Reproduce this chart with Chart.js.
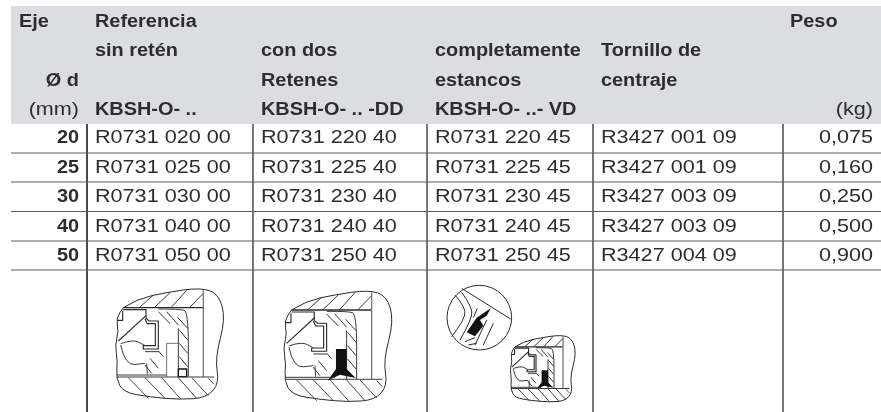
<!DOCTYPE html>
<html>
<head>
<meta charset="utf-8">
<script src="https://cdn.jsdelivr.net/npm/chart.js@4/dist/chart.umd.min.js"></script>
<style>
	html, body { margin: 0; padding: 0; background: #fff; }
	canvas { display: block; }
</style>
</head>
<body>
<canvas id="tableChart" width="881" height="412"></canvas>
<script>
// table content
const diameters = ["20", "25", "30", "40", "50"];
const sinReten = ["R0731 020 00", "R0731 025 00", "R0731 030 00", "R0731 040 00", "R0731 050 00"];
const conDosRetenes = ["R0731 220 40", "R0731 225 40", "R0731 230 40", "R0731 240 40", "R0731 250 40"];
const completamenteEstancos = ["R0731 220 45", "R0731 225 45", "R0731 230 45", "R0731 240 45", "R0731 250 45"];
const tornillos = ["R3427 001 09", "R3427 001 09", "R3427 003 09", "R3427 003 09", "R3427 004 09"];
const pesos = ["0,075", "0,160", "0,250", "0,500", "0,900"];
const headerEje = ["Eje", "", "Ø d", "(mm)"];
const headerSinReten = ["Referencia", "sin retén", "", "KBSH-O- .."];
const headerConDos = ["", "con dos", "Retenes", "KBSH-O- .. -DD"];
const headerEstancos = ["", "completamente", "estancos", "KBSH-O- ..- VD"];
const headerTornillo = ["", "Tornillo de", "centraje", ""];
const headerPeso = ["Peso", "", "", "(kg)"];

// table grid on the x/y scales
const colRules = [87, 253, 427, 593, 783];
const colRuleTop = [6, 36, 36, 6, 6];
const rowRules = [153, 182, 211.5, 241, 270];
const headerBaselines = [27, 56, 86, 115];
const rowBaselines = [143, 173, 202, 231.5, 261];

const ruleSet = (a, b, width, color) => ({
	type: "line",
	data: [a, b],
	borderColor: color,
	borderWidth: width,
	pointRadius: 0,
	fill: false,
});

const datasets = [
	{
		// header band
		type: "line",
		data: [{ x: 11, y: 6 }, { x: 881, y: 6 }],
		borderWidth: 0,
		pointRadius: 0,
		backgroundColor: "#dcdde0",
		fill: { value: 124 },
	},
];
rowRules.forEach((y) => datasets.push(ruleSet({ x: 11, y: y }, { x: 881, y: y }, 1, "#5f5f5f")));
colRules.forEach((x, i) =>
	datasets.push(ruleSet({ x: x, y: colRuleTop[i] }, { x: x, y: 412 }, i == 0 ? 2 : 1.5, "#4a4a4a"))
);

const TEXT = "#2d2d2d";
function putText(ctx, str, x, y, bold, right) {
	// the source is a print scan stretched sideways, so widen the glyphs
	const sx = bold ? 1.105 : 1.2;
	ctx.save();
	ctx.translate(x, y);
	ctx.scale(sx, 1);
	ctx.font = (bold ? "bold " : "") + "18px 'Liberation Sans'";
	ctx.textAlign = right ? "right" : "left";
	ctx.textBaseline = "alphabetic";
	ctx.fillStyle = TEXT;
	ctx.fillText(str, 0, 0);
	ctx.restore();
}

function poly(ctx, pts, close) {
	ctx.beginPath();
	pts.forEach((p, i) => (i ? ctx.lineTo(p[0], p[1]) : ctx.moveTo(p[0], p[1])));
	if (close) ctx.closePath();
	ctx.stroke();
}
function smooth(ctx, pts) {
	ctx.beginPath();
	ctx.moveTo(pts[0][0], pts[0][1]);
	for (let i = 1; i < pts.length - 1; i++) {
		const mx = (pts[i][0] + pts[i + 1][0]) / 2;
		const my = (pts[i][1] + pts[i + 1][1]) / 2;
		ctx.quadraticCurveTo(pts[i][0], pts[i][1], mx, my);
	}
	const last = pts[pts.length - 1];
	ctx.lineTo(last[0], last[1]);
	ctx.stroke();
}

// bearing section, traced in 3x zoom units
function bearing(ctx, ox, oy, k, seal) {
	ctx.save();
	ctx.translate(ox, oy);
	ctx.scale(k / 3, k / 3);
	ctx.strokeStyle = "#2a2a2a";
	ctx.lineJoin = "round";
	ctx.lineWidth = 3 / k;
	smooth(ctx, [[100, 38], [140, 12], [230, -8], [330, -22], [385, -5], [407, 70], [375, 190], [388, 265], [350, 308], [270, 314], [180, 306], [100, 292], [78, 250], [83, 200], [75, 150], [86, 110], [78, 70], [100, 38]]);
	// housing
	ctx.lineWidth = 4 / k;
	poly(ctx, [[100, 38], [340, 38]]);
	ctx.lineWidth = 2.8 / k;
	[[150, 36, 190, 0], [195, 36, 240, -7], [245, 36, 290, -14], [300, 36, 340, -5]].forEach((h) => poly(ctx, [[h[0], h[1]], [h[2], h[3]]]));
	// outer race
	ctx.lineWidth = 3.4 / k;
	poly(ctx, [[100, 44], [168, 44], [168, 70], [178, 78], [205, 78], [205, 162], [160, 162], [160, 152], [196, 152], [196, 86], [172, 86], [165, 72]]);
	poly(ctx, [[82, 76], [98, 76], [98, 48]]);
	poly(ctx, [[85, 138], [168, 62]]);
	// ball
	ctx.lineWidth = 2.8 / k;
	smooth(ctx, [[92, 146], [130, 132], [165, 152]]);
	smooth(ctx, [[92, 150], [105, 212], [165, 205]]);
	poly(ctx, [[165, 170], [208, 170]]);
	poly(ctx, [[207, 170], [220, 185]]);
	poly(ctx, [[170, 205], [172, 238]]);
	// seal carrier
	smooth(ctx, [[205, 42], [270, 42], [295, 50], [295, 245]]);
	poly(ctx, [[265, 100], [265, 245]]);
	[[205, 50, 240, 86], [230, 50, 265, 90], [262, 66, 293, 100], [268, 105, 293, 135], [268, 145, 293, 175], [268, 185, 293, 215], [180, 190, 205, 220], [165, 210, 185, 235]].forEach((h) => poly(ctx, [[h[0], h[1]], [h[2], h[3]]]));
	if (seal) {
		ctx.fillStyle = "#111";
		ctx.beginPath();
		[[233, 155], [265, 155], [265, 215], [292, 242], [245, 232], [208, 250], [233, 215]].forEach((p, i) => (i ? ctx.lineTo(p[0], p[1]) : ctx.moveTo(p[0], p[1])));
		ctx.closePath();
		ctx.fill();
	} else {
		ctx.strokeStyle = "#666";
		poly(ctx, [[230, 245], [230, 145], [265, 145]]);
		ctx.strokeStyle = "#111";
		ctx.lineWidth = 4 / k;
		poly(ctx, [[265, 222], [290, 222], [290, 245], [265, 245]], true);
	}
	// shaft
	ctx.strokeStyle = "#777";
	ctx.lineWidth = 4 / k;
	poly(ctx, [[340, -15], [340, 245]]);
	ctx.strokeStyle = "#3a3a3a";
	ctx.lineWidth = 3 / k;
	poly(ctx, [[80, 240], [230, 240]]);
	poly(ctx, [[80, 246], [372, 246]]);
	ctx.lineWidth = 2.8 / k;
	[[115, 248, 175, 310], [165, 248, 225, 310], [215, 248, 272, 312], [265, 248, 320, 310], [305, 248, 355, 302], [355, 250, 372, 268]].forEach((h) => poly(ctx, [[h[0], h[1]], [h[2], h[3]]]));
	ctx.restore();
}

// round detail above the small section
function detail(ctx, ox, oy) {
	ctx.save();
	ctx.translate(ox, oy);
	ctx.scale(1 / 3, 1 / 3);
	ctx.strokeStyle = "#2a2a2a";
	ctx.lineWidth = 3;
	ctx.beginPath();
	ctx.arc(178, 68, 97, 0, Math.PI * 2);
	ctx.stroke();
	poly(ctx, [[125, -20], [272, 72]]);
	smooth(ctx, [[105, 0], [140, 40], [128, 80], [95, 125]]);
	smooth(ctx, [[125, -8], [160, 40], [150, 80], [120, 135]]);
	poly(ctx, [[172, 40], [160, 68]]);
	[[200, 75, 165, 150], [220, 85, 190, 150], [135, 140, 165, 128], [145, 150, 170, 145]].forEach((h) => poly(ctx, [[h[0], h[1]], [h[2], h[3]]]));
	ctx.fillStyle = "#111";
	ctx.beginPath();
	[[212, 40], [170, 68], [140, 112], [165, 124], [190, 92], [180, 75], [200, 62]].forEach((p, i) => (i ? ctx.lineTo(p[0], p[1]) : ctx.moveTo(p[0], p[1])));
	ctx.closePath();
	ctx.fill();
	ctx.restore();
}

const tablePlugin = {
	id: "tablePlugin",
	afterDatasetsDraw(chart) {
		const { ctx, scales: { x, y } } = chart;
		const px = (v) => x.getPixelForValue(v);
		const py = (v) => y.getPixelForValue(v);
		headerBaselines.forEach((b, i) => {
			if (i < 3) putText(ctx, headerEje[i], i == 0 ? px(19) : px(79), py(b), true, i != 0);
			else putText(ctx, headerEje[i], px(79), py(b), false, true);
			putText(ctx, headerSinReten[i], px(95), py(b), true);
			putText(ctx, headerConDos[i], px(261), py(b), true);
			putText(ctx, headerEstancos[i], px(435), py(b), true);
			putText(ctx, headerTornillo[i], px(601), py(b), true);
			if (i < 3) putText(ctx, headerPeso[i], px(790), py(b), true);
			else putText(ctx, headerPeso[i], px(873), py(b), false, true);
		});
		rowBaselines.forEach((b, i) => {
			putText(ctx, diameters[i], px(79), py(b), true, true);
			putText(ctx, sinReten[i], px(95), py(b));
			putText(ctx, conDosRetenes[i], px(261), py(b));
			putText(ctx, completamenteEstancos[i], px(435), py(b));
			putText(ctx, tornillos[i], px(601), py(b));
			putText(ctx, pesos[i], px(873), py(b), false, true);
		});
		bearing(ctx, px(90), py(295), 1, false);
		bearing(ctx, px(258.3), py(297.3), 1, true);
		bearing(ctx, px(495), py(339.3), 0.6, true);
		detail(ctx, px(420), py(295));
	},
};

new Chart(document.getElementById("tableChart"), {
	type: "scatter",
	data: { datasets: datasets },
	plugins: [tablePlugin],
	options: {
		responsive: false,
		animation: false,
		layout: { padding: 0 },
		plugins: { legend: { display: false }, tooltip: { enabled: false } },
		scales: {
			x: { type: "linear", min: 0, max: 881, display: false },
			y: { type: "linear", min: 0, max: 412, reverse: true, display: false },
		},
	},
});
</script>
</body>
</html>
